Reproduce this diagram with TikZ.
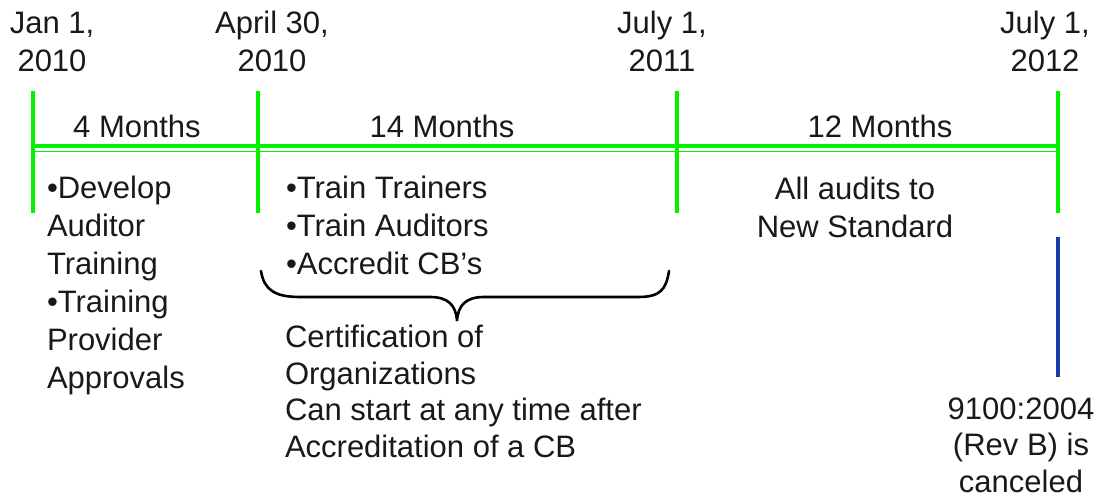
\documentclass[tikz,border=0pt]{standalone}
\usepackage{fontspec}
\setmainfont{Liberation Sans}
\definecolor{tlgreen}{RGB}{0,240,0}
\definecolor{tlblue}{RGB}{25,60,170}
\begin{document}
\begin{tikzpicture}[x=1pt,y=-1pt,
  txt/.style={font=\fontsize{31}{38}\selectfont, inner sep=0pt, outer sep=0pt, text=black!90},
  tick/.style={draw=tlgreen, line width=3.5pt},
  axis/.style={draw=tlgreen, line width=3.5pt},
  axisthin/.style={draw=tlgreen, line width=1.4pt},
  brace/.style={draw=black, line width=2.6pt, line cap=round},
  cancel/.style={draw=tlblue, line width=3.5pt}]
\useasboundingbox (0,0) rectangle (1099,497);
% ticks
\coordinate (t1a) at (33,91);   \coordinate (t1b) at (33,213);
\coordinate (t2a) at (258,91);  \coordinate (t2b) at (258,213);
\coordinate (t3a) at (677,91);  \coordinate (t3b) at (677,213);
\coordinate (t4a) at (1058,91); \coordinate (t4b) at (1058,213);
\coordinate (ax1) at (33,146);  \coordinate (ax2) at (1058,146);
\coordinate (bx1) at (33,151.5);  \coordinate (bx2) at (1058,151.5);
\draw[axisthin] (bx1) -- (bx2);
\draw[axis] (ax1) -- (ax2);
\draw[tick] (t1a) -- (t1b);
\draw[tick] (t2a) -- (t2b);
\draw[tick] (t3a) -- (t3b);
\draw[tick] (t4a) -- (t4b);
% cancel line
\coordinate (c1) at (1058,237); \coordinate (c2) at (1058,377);
\draw[cancel] (c1) -- (c2);
% dates (anchored at baseline of last line)
\node[txt, align=center, anchor=base] (d1) at (52,72) {Jan 1,\\2010};
\node[txt, align=center, anchor=base] (d2) at (272,72) {April 30,\\2010};
\node[txt, align=center, anchor=base] (d3) at (662,72) {July 1,\\2011};
\node[txt, align=center, anchor=base] (d4) at (1045,72) {July 1,\\2012};
% durations
\node[txt, anchor=base] (m1) at (137,138) {4 Months};
\node[txt, anchor=base] (m2) at (442,138) {14 Months};
\node[txt, anchor=base] (m3) at (880,138) {12 Months};
% activities
\node[txt, align=left, anchor=base west] (a1) at (47,388) {•Develop\\Auditor\\Training\\•Training\\Provider\\Approvals};
\node[txt, align=left, anchor=base west] (a2) at (286,274) {•Train Trainers\\•Train Auditors\\•Accredit CB’s};
\node[txt, align=center, anchor=base] (a3) at (855,237) {All audits to\\New Standard};
\node[txt, align=left, anchor=base west, font=\fontsize{31}{36.5}\selectfont] (a4) at (285,457) {Certification of\\Organizations\\Can start at any time after\\Accreditation of a CB};
\node[txt, align=center, anchor=base, font=\fontsize{31}{36.5}\selectfont] (a5) at (1021,492) {9100:2004\\(Rev B) is\\canceled};
% brace
\coordinate (bl) at (261,271);
\coordinate (br) at (669,271);
\coordinate (btip) at (457,321);
\draw[brace] (bl) .. controls (264,290) and (275,297) .. (300,297)
  -- (430,297) .. controls (448,297) and (456,305) .. (btip)
  .. controls (458,305) and (466,297) .. (484,297)
  -- (638,297) .. controls (660,297) and (666,290) .. (br);
\end{tikzpicture}
\end{document}
